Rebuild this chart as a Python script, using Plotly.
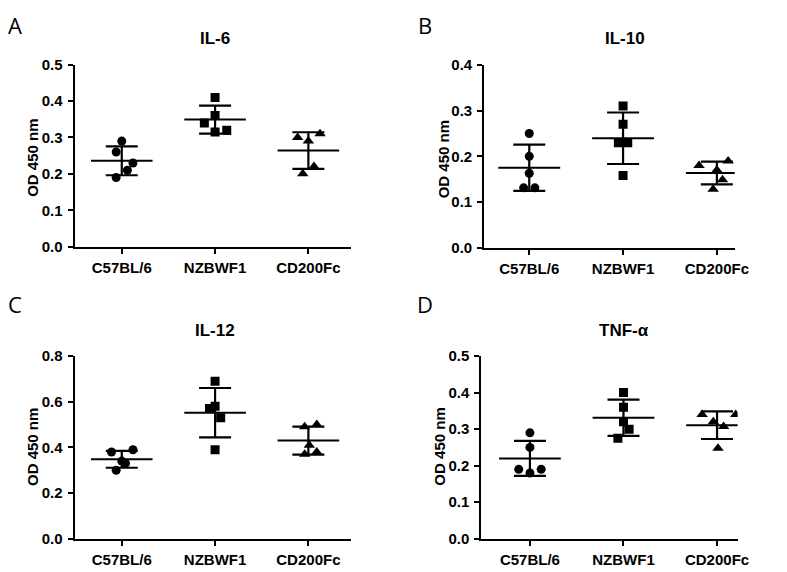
import plotly.graph_objects as go
import numpy as np

# ---------------- data ----------------
categories = ["C57BL/6", "NZBWF1", "CD200Fc"]

il6_c57 = [0.29, 0.26, 0.23, 0.21, 0.19]
il6_nzb = [0.41, 0.36, 0.34, 0.32, 0.315]
il6_cd200 = [0.30, 0.31, 0.29, 0.22, 0.20]

il10_c57 = [0.25, 0.20, 0.163, 0.131, 0.131]
il10_nzb = [0.31, 0.27, 0.23, 0.23, 0.158]
il10_cd200 = [0.18, 0.19, 0.17, 0.149, 0.128]

il12_c57 = [0.38, 0.39, 0.34, 0.33, 0.30]
il12_nzb = [0.69, 0.58, 0.57, 0.53, 0.39]
il12_cd200 = [0.49, 0.50, 0.41, 0.37, 0.38]

tnf_c57 = [0.29, 0.25, 0.19, 0.19, 0.18]
tnf_nzb = [0.40, 0.36, 0.32, 0.30, 0.275]
tnf_cd200 = [0.34, 0.34, 0.32, 0.307, 0.248]

panel_titles = ["IL-6", "IL-10", "IL-12", "TNF-α"]
panel_letters = ["A", "B", "C", "D"]
y_max = [0.5, 0.4, 0.8, 0.5]
y_dtick = [0.1, 0.1, 0.2, 0.1]

panels = [
    [il6_c57, il6_nzb, il6_cd200],
    [il10_c57, il10_nzb, il10_cd200],
    [il12_c57, il12_nzb, il12_cd200],
    [tnf_c57, tnf_nzb, tnf_cd200],
]

# ---------------- style / layout ----------------
W, H = 787, 572
# horizontal jitter of points (fraction of category spacing), as in the scatter plot
JITTER = [
    [[0, -0.06, 0.12, 0.06, -0.06], [0, 0, -0.115, 0.125, 0], [-0.115, 0.125, 0, 0.06, -0.06]],
    [[0, 0, 0, -0.06, 0.06], [0, 0, -0.05, 0.05, 0], [-0.19, 0.12, 0, 0.06, -0.04]],
    [[-0.11, 0.12, 0, 0.04, -0.06], [0, 0, -0.06, 0.06, 0], [-0.04, 0.09, 0.01, -0.04, 0.09]],
    [[0, 0, -0.12, 0.12, 0], [0, 0, 0, 0.06, -0.06], [-0.16, 0.2, -0.04, 0.07, 0.01]],
]
symbols = ["circle", "square", "triangle-up"]
msize = [9, 9, 10]

# pixel geometry of each axis box: (x0, x1, ytop, ybottom), x-range
boxes = [
    (76, 357, 57.3, 245, [-0.505, 2.453]),
    (493, 748, 57.7, 246, [-0.48, 2.19]),
    (76, 357, 357.7, 546, [-0.505, 2.453]),
    (490, 751, 357.7, 546, [-0.52, 2.22]),
]
title_pos = [(219, 30), (636, 30), (219, 331), (635, 331)]
letter_pos = [(15, 16), (433, 17), (15, 304), (433, 304)]
ytitle_pos = [(33, 153), (451, 155), (33, 451), (448, 451)]

FONT = "Liberation Sans, Arial, sans-serif"
fig = go.Figure()
layout = dict(
    width=W, height=H, margin=dict(l=0, r=0, t=0, b=0),
    paper_bgcolor="white", plot_bgcolor="white", showlegend=False,
    font=dict(family=FONT, color="black"),
)
annotations = []

for p in range(4):
    ax = "" if p == 0 else str(p + 1)
    xref, yref = "x" + ax, "y" + ax
    x0, x1, yt, yb, xr = boxes[p]
    layout["xaxis" + ax] = dict(
        domain=[x0 / W, x1 / W], range=xr, anchor=yref,
        tickmode="array", tickvals=[0, 1, 2], ticktext=categories,
        showline=True, linecolor="black", linewidth=2,
        ticks="outside", ticklen=5, tickwidth=2, tickcolor="black",
        showgrid=False, zeroline=False, ticklabelstandoff=1,
        tickfont=dict(family=FONT, size=15, color="black", weight="bold"),
    )
    layout["yaxis" + ax] = dict(
        domain=[1 - yb / H, 1 - yt / H], range=[0, y_max[p]], anchor=xref,
        dtick=y_dtick[p], tick0=0, tickformat=".1f",
        showline=True, linecolor="black", linewidth=2,
        ticks="outside", ticklen=5, tickwidth=2, tickcolor="black",
        showgrid=False, zeroline=False, ticklabelstandoff=2,
        tickfont=dict(family=FONT, size=15, color="black", weight="bold"),
    )
    for g, vals in enumerate(panels[p]):
        arr = np.array(vals)
        mean = arr.mean()
        sd = arr.std(ddof=1)
        # individual points
        fig.add_trace(go.Scatter(
            x=[g + j for j in JITTER[p][g]], y=vals, xaxis=xref, yaxis=yref,
            mode="markers", marker=dict(symbol=symbols[g], size=msize[g], color="black"),
            hoverinfo="y",
        ))
        # mean line
        fig.add_trace(go.Scatter(
            x=[g - 0.33, g + 0.33], y=[mean, mean], xaxis=xref, yaxis=yref,
            mode="lines", line=dict(color="black", width=2), hoverinfo="skip",
        ))
        # SD error bar
        fig.add_trace(go.Scatter(
            x=[g], y=[mean], xaxis=xref, yaxis=yref, mode="markers",
            marker=dict(size=1, color="rgba(0,0,0,0)"),
            error_y=dict(type="data", array=[sd], visible=True, color="black",
                         thickness=2.2, width=16),
            hoverinfo="skip",
        ))
    tx, ty = title_pos[p]
    annotations.append(dict(x=tx / W, y=1 - ty / H, xref="paper", yref="paper",
                            text="<b>%s</b>" % panel_titles[p], showarrow=False,
                            font=dict(family=FONT, size=17, color="black"),
                            xanchor="center", yanchor="middle"))
    lx, ly = letter_pos[p]
    annotations.append(dict(x=lx / W, y=1 - ly / H, xref="paper", yref="paper",
                            text=panel_letters[p], showarrow=False,
                            font=dict(family="Open Sans, Noto Sans, sans-serif", size=22, color="black"),
                            xanchor="center", yanchor="middle"))
    yx, yy = ytitle_pos[p]
    annotations.append(dict(x=yx / W, y=1 - yy / H, xref="paper", yref="paper",
                            text="<b>OD 450 nm</b>", showarrow=False, textangle=-90,
                            font=dict(family=FONT, size=15, color="black"),
                            xanchor="center", yanchor="middle"))

layout["annotations"] = annotations
fig.update_layout(**layout)
fig.write_html("out.html", config={"displayModeBar": False},
               post_script="document.body.style.margin='0';document.body.style.overflow='hidden';")
